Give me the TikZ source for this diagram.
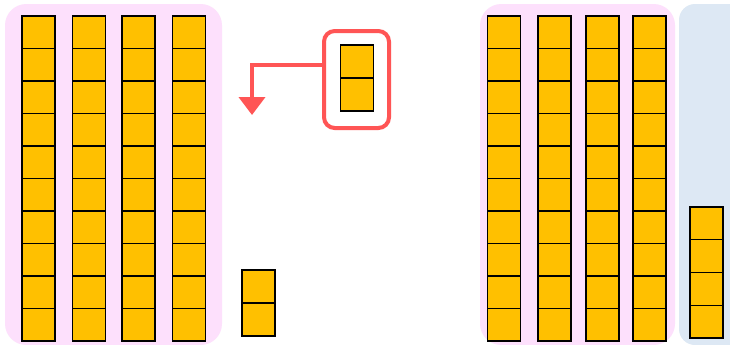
\documentclass[tikz,border=0pt]{standalone}
\usetikzlibrary{arrows.meta}
\definecolor{panelpink}{HTML}{FDE0FC}
\definecolor{panelblue}{HTML}{DDE8F4}
\definecolor{cubeyellow}{HTML}{FFC000}
\definecolor{hlred}{HTML}{FF5555}
\tikzset{
  cell/.style={draw=black, line width=0.8pt, fill=cubeyellow, rectangle,
    minimum width=33*0.75pt, minimum height=#1*0.75pt, inner sep=0pt, outer sep=0pt},
  cell/.default=32.5,
  hlbox/.style={draw=hlred, line width=3pt, rounded corners=8pt, rectangle,
    minimum width=65*0.75pt, minimum height=97*0.75pt, inner sep=0pt},
  hlarrow/.style={draw=hlred, line width=3pt, -{Triangle[width=19.5pt,length=13.5pt]}}
}
\begin{document}
\begin{tikzpicture}[x=0.75pt,y=-0.75pt]
\clip (0,0) rectangle (730,344);
\fill[white] (0,0) rectangle (730,344);
% panels
\fill[panelpink, rounded corners=16pt] (5,4) rectangle (222,345);
\fill[panelpink, rounded corners=16pt] (480,4) rectangle (675,345);
\fill[panelblue, rounded corners=12pt] (679,4) rectangle (760,345);
% left group: 4 columns of 10
\foreach \c/\x in {1/38.5,2/88.8,3/138.5,4/189} {
  \foreach \r in {1,...,10} {
    \node[cell] (L\c-\r) at (\x,{16+32.5*(\r-0.5)}) {};
  }
}
% right group: 4 columns of 10
\foreach \c/\x in {1/504,2/554.5,3/602.5,4/649.5} {
  \foreach \r in {1,...,10} {
    \node[cell] (R\c-\r) at (\x,{16+32.5*(\r-0.5)}) {};
  }
}
% highlighted pair
\node[cell=33] (T1) at (357,61.5) {};
\node[cell=33] (T2) at (357,94.5) {};
\node[hlbox] (box) at (356.5,79.5) {};
% bottom pair
\node[cell=33] (B1) at (258.5,286.5) {};
\node[cell=33] (B2) at (258.5,319.5) {};
% blue column of 4
\foreach \r in {1,...,4} {
  \node[cell=32.75] (C\r) at (706.5,{207+32.75*(\r-0.5)}) {};
}
% arrow
\coordinate (tip) at (252,115);
\coordinate (start) at (324,64.5);
\draw[hlarrow] (start) -| (tip);
\end{tikzpicture}
\end{document}
